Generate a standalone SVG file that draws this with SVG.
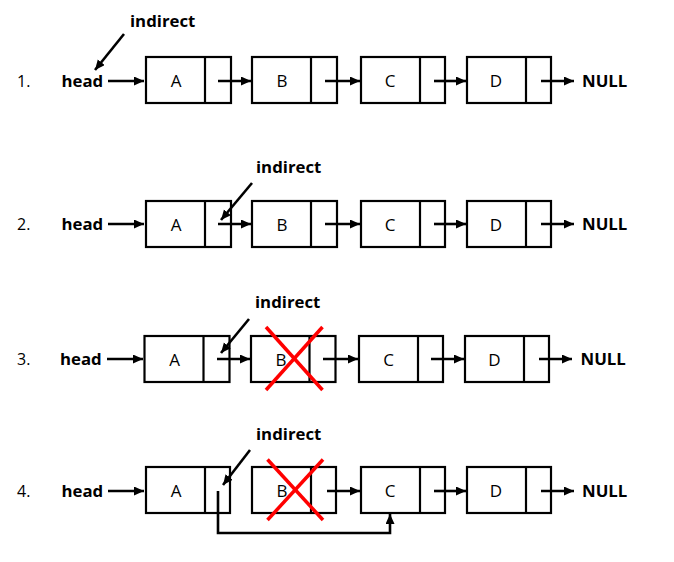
<svg xmlns="http://www.w3.org/2000/svg" width="674" height="562" viewBox="0 0 674 562">
<style>
.box{fill:#fff;stroke:#000;stroke-width:2.2}
.div{stroke:#000;stroke-width:2.2}
.lbl{font-family:"Open Sans","Liberation Sans",sans-serif;font-size:17px;fill:#000;text-anchor:middle}
.num{font-family:"Open Sans","Liberation Sans",sans-serif;font-size:16px;fill:#000}
.b{font-family:"Open Sans","Liberation Sans",sans-serif;font-size:16.8px;font-weight:bold;fill:#000}
.ar{fill:none;stroke:#000;stroke-width:2.6;marker-end:url(#ah)}
.x{stroke:#f00;stroke-width:3.5}
</style>
<defs>
<marker id="ah" markerUnits="userSpaceOnUse" markerWidth="11" markerHeight="10" refX="10" refY="4.5" orient="auto">
<path d="M0,0 L10,4.5 L0,9 Z" fill="#000"/>
</marker>
</defs>

<g id="row1">
<text class="num" x="17" y="87">1.</text>
<text class="b" x="61.5" y="87">head</text>
<text class="b" x="130" y="27">indirect</text>
<g id="r1A"><rect class="box" x="146" y="57" width="85" height="46"/><line class="div" x1="205" y1="57" x2="205" y2="103"/><text class="lbl" x="176" y="86.5">A</text></g>
<g id="r1B"><rect class="box" x="252" y="57" width="85" height="46"/><line class="div" x1="311" y1="57" x2="311" y2="103"/><text class="lbl" x="282" y="86.5">B</text></g>
<g id="r1C"><rect class="box" x="361" y="57" width="84" height="46"/><line class="div" x1="420" y1="57" x2="420" y2="103"/><text class="lbl" x="390" y="86.5">C</text></g>
<g id="r1D"><rect class="box" x="467" y="57" width="84" height="46"/><line class="div" x1="526" y1="57" x2="526" y2="103"/><text class="lbl" x="496" y="86.5">D</text></g>
<text class="b" x="582" y="87">NULL</text>
</g>

<g id="row2">
<text class="num" x="17" y="230">2.</text>
<text class="b" x="61.5" y="230">head</text>
<text class="b" x="256" y="173">indirect</text>
<g id="r2A"><rect class="box" x="146" y="201" width="85" height="46"/><line class="div" x1="205" y1="201" x2="205" y2="247"/><text class="lbl" x="176" y="230.5">A</text></g>
<g id="r2B"><rect class="box" x="252" y="201" width="85" height="46"/><line class="div" x1="311" y1="201" x2="311" y2="247"/><text class="lbl" x="282" y="230.5">B</text></g>
<g id="r2C"><rect class="box" x="361" y="201" width="84" height="46"/><line class="div" x1="420" y1="201" x2="420" y2="247"/><text class="lbl" x="390" y="230.5">C</text></g>
<g id="r2D"><rect class="box" x="467" y="201" width="84" height="46"/><line class="div" x1="526" y1="201" x2="526" y2="247"/><text class="lbl" x="496" y="230.5">D</text></g>
<text class="b" x="582" y="230">NULL</text>
</g>

<g id="row3">
<text class="num" x="17" y="365">3.</text>
<text class="b" x="60" y="365">head</text>
<text class="b" x="255" y="308">indirect</text>
<g id="r3A"><rect class="box" x="144.5" y="336" width="85" height="46"/><line class="div" x1="203.5" y1="336" x2="203.5" y2="382"/><text class="lbl" x="174.5" y="365.5">A</text></g>
<g id="r3B"><rect class="box" x="251" y="336" width="84.5" height="46"/><line class="div" x1="309.5" y1="336" x2="309.5" y2="382"/><text class="lbl" x="281" y="365.5">B</text></g>
<g id="r3C"><rect class="box" x="359" y="336" width="84" height="46"/><line class="div" x1="418" y1="336" x2="418" y2="382"/><text class="lbl" x="388.5" y="365.5">C</text></g>
<g id="r3D"><rect class="box" x="465" y="336" width="84" height="46"/><line class="div" x1="524" y1="336" x2="524" y2="382"/><text class="lbl" x="494.5" y="365.5">D</text></g>
<text class="b" x="580.5" y="365">NULL</text>
<line class="x" x1="266" y1="327" x2="322.5" y2="390"/>
<line class="x" x1="322.5" y1="327" x2="266" y2="390"/>
</g>

<g id="row4">
<text class="num" x="17" y="497">4.</text>
<text class="b" x="61.5" y="497">head</text>
<text class="b" x="256" y="440">indirect</text>
<g id="r4A"><rect class="box" x="146" y="467" width="84" height="46"/><line class="div" x1="205" y1="467" x2="205" y2="513"/><text class="lbl" x="176" y="496.5">A</text></g>
<g id="r4B"><rect class="box" x="252" y="467" width="84" height="46"/><line class="div" x1="311" y1="467" x2="311" y2="513"/><text class="lbl" x="282" y="496.5">B</text></g>
<g id="r4C"><rect class="box" x="361" y="467" width="84" height="46"/><line class="div" x1="420" y1="467" x2="420" y2="513"/><text class="lbl" x="390" y="496.5">C</text></g>
<g id="r4D"><rect class="box" x="467" y="467" width="84" height="46"/><line class="div" x1="526" y1="467" x2="526" y2="513"/><text class="lbl" x="496" y="496.5">D</text></g>
<text class="b" x="582" y="497">NULL</text>
<line class="x" x1="267.5" y1="459.5" x2="323" y2="520"/>
<line class="x" x1="323" y1="459.5" x2="267.5" y2="520"/>
</g>

<g id="connectors">
<line class="ar" x1="108" y1="81" x2="144" y2="81"/>
<line class="ar" x1="218" y1="81" x2="251" y2="81"/>
<line class="ar" x1="325" y1="81" x2="360" y2="81"/>
<line class="ar" x1="434" y1="81" x2="466" y2="81"/>
<line class="ar" x1="541" y1="81" x2="574" y2="81"/>
<line class="ar" x1="124" y1="34" x2="95" y2="70"/>

<line class="ar" x1="108" y1="224" x2="144" y2="224"/>
<line class="ar" x1="218" y1="224" x2="251" y2="224"/>
<line class="ar" x1="325" y1="224" x2="360" y2="224"/>
<line class="ar" x1="434" y1="224" x2="466" y2="224"/>
<line class="ar" x1="541" y1="224" x2="574" y2="224"/>
<line class="ar" x1="252" y1="183" x2="221" y2="220"/>

<line class="ar" x1="107" y1="359" x2="143" y2="359"/>
<line class="ar" x1="217" y1="359" x2="250" y2="359"/>
<line class="ar" x1="323" y1="359" x2="358" y2="359"/>
<line class="ar" x1="431" y1="359" x2="464" y2="359"/>
<line class="ar" x1="539" y1="359" x2="572" y2="359"/>
<line class="ar" x1="249" y1="319" x2="221" y2="353"/>

<line class="ar" x1="108" y1="491" x2="144" y2="491"/>
<line class="ar" x1="327" y1="491" x2="360" y2="491"/>
<line class="ar" x1="434" y1="491" x2="466" y2="491"/>
<line class="ar" x1="541" y1="491" x2="574" y2="491"/>
<line class="ar" x1="250" y1="450" x2="223" y2="485"/>
<polyline class="ar" points="218,491 218,533 390,533 390,514"/>
</g>
</svg>
